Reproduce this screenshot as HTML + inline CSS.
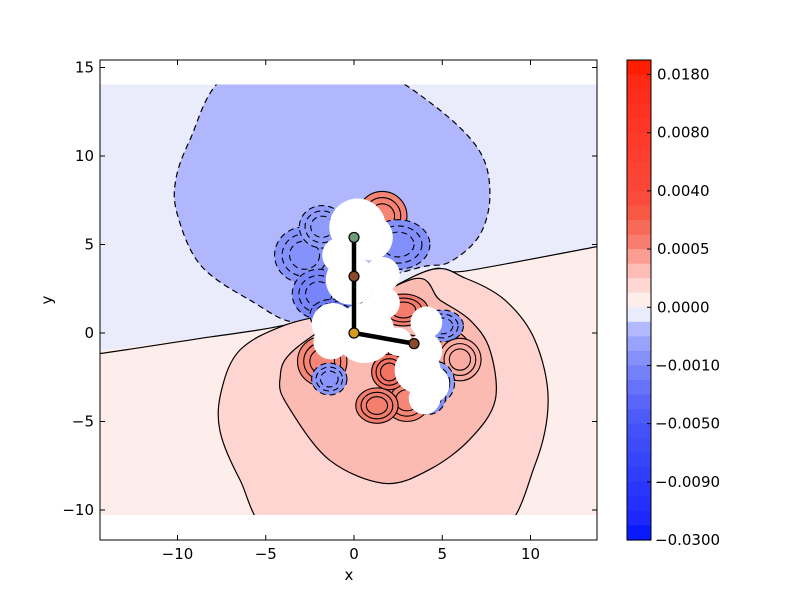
<!DOCTYPE html>
<html><head><meta charset="utf-8"><style>
body{margin:0;background:#fff}
svg text{font-family:"DejaVu Sans","Liberation Sans",sans-serif;font-size:15px;fill:#000}
</style></head><body>
<svg id="chart" width="800" height="600" xmlns="http://www.w3.org/2000/svg">
<defs><clipPath id="clip"><rect x="100" y="84.5" width="497" height="430.5"/></clipPath></defs>
<g id="plot" clip-path="url(#clip)"></g>
<g id="overlay"></g>
</svg>
<script>
const xTicks=[-10,-5,0,5,10];
const yTicks=[15,10,5,0,-5,-10];
const cbLabels=["0.0180","0.0080","0.0040","0.0005","0.0000","\u22120.0010","\u22120.0050","\u22120.0090","\u22120.0300"];
const cbColors=["#ff1e00","#ff2814","#ff2e1c","#ff3222","#ff3626","#fe3a2a","#fd3e2f","#fc4233","#fb4637","#fa4b3c","#f95843","#f86a58","#f97d6e","#fb9d92","#fdbcb5","#fed7d3","#fdeeeb","#eaecfc","#b3b9fd","#9aa3fc","#8590fb","#7380fa","#6572f9","#5966f9","#4d5bf8","#4451f9","#3d4bf9","#3644fa","#303dfb","#2a36fc","#2430fd","#1c28fe","#0a1afe"];
const atomX=[0,0,0,3.4];
const atomY=[5.4,3.2,0,-0.6];
const atomColors=["#6f9a7a","#8b4a2b","#d79a20","#8b4a2b"];
const bondsFrom=[0,2];
const bondsTo=[2,3];
const blueBlob=[[-3.06,0.62],[-5.9,1.86],[-8.7,3.84],[-10,6.67],[-10.1,8.64],[-9.3,10.9],[-7.4,14.4],[-3,15.4],[1.0,15.0],[4.6,12.8],[7.1,10.3],[7.7,7.8],[7.1,5.5],[5.4,4.0],[3.7,3.7],[0,2.5]];
const pinkBg=[[-14.4,-0.98],[-8,-0.2],[-3.9,0.45],[0,1.5],[4.3,3.56],[6.3,3.5],[13.77,4.84],[13.77,-10.3],[-14.4,-10.3]];
const pink2=[[-3.9,0.45],[-6.46,-0.96],[-7.5,-3.2],[-7.6,-5.5],[-6.46,-8.3],[-4.5,-11.5],[1.5,-12.5],[8.0,-11.5],[10.25,-7.46],[11,-3.8],[10.25,-0.4],[8.55,1.86],[6.3,3.1],[4.3,3.56],[0,1.5]];
const pink3=[[-3.06,-0.68],[-4.2,-2.66],[-3.6,-4.35],[-1.36,-7.2],[1.76,-8.5],[4.3,-7.7],[6.57,-6.0],[8,-3.8],[7.7,-0.96],[6.57,0.73],[4.87,1.86],[3.17,3.0]];
const lobeX=[-2.8,-1.8,1.6,2.5,-2.0,-1.3,-1.8,3.0,5.2,5.0,-1.4,3.0,1.3,6.0,2.8,-0.8,2.0,4.6,4.2];
const lobeY=[4.4,6.0,6.6,5.0,2.2,1.0,-1.6,-1.3,-1.0,0.4,-2.6,-3.8,-4.1,-1.5,1.3,1.0,-2.2,-2.8,-3.6];
const lobeRx=[1.7,1.3,1.4,1.8,1.5,1.2,1.4,1.4,1.4,1.2,1.0,1.3,1.2,1.2,1.4,1.0,1.0,1.1,1.0];
const lobeRy=[1.6,1.2,1.4,1.4,1.4,0.9,1.4,1.2,1.2,0.9,0.9,1.2,1.0,1.2,0.9,0.8,1.0,1.2,1.0];
const lobeCol=["#8693fb","#8f9cfb","#f68474","#8390fa","#7784fa","#6d7af9","#f68777","#f87c69","#f7998c","#8592fa","#8a96fb","#f68676","#f47e6e","#faaca3","#f57c6c","#5f6cf8","#f47262","#93a0fb","#7e8bfa"];
const lobeDash=[1,1,0,1,1,1,0,0,0,1,1,0,0,0,0,1,0,1,1];
const whiteX=[0.2,0.9,-0.8,-0.2,1.6,0.6,-1.2,1.7,4.1,4.0,3.6,4.3,4.0,2.5,-1.3,1.2];
const whiteY=[6.0,5.4,4.4,3.0,3.3,0.0,0.5,1.7,0.6,-1.0,-2.1,-2.9,-3.7,-0.5,-0.5,1.2];
const whiteR=[1.6,1.3,1.0,1.4,1.0,1.7,1.2,0.9,0.9,1.0,1.3,1.1,0.9,0.8,1.0,0.9];

const X0=354,SX=17.65,Y0=333,SY=17.7;
const sx=v=>X0+v*SX, sy=v=>Y0-v*SY;
const NS="http://www.w3.org/2000/svg";
const plot=document.getElementById('plot'),ov=document.getElementById('overlay');
function mk(t,a,p){const e=document.createElementNS(NS,t);for(const k in a)e.setAttribute(k,a[k]);p.appendChild(e);return e;}
function smooth(pts,closed){
  const P=pts.map(p=>[sx(p[0]),sy(p[1])]);const n=P.length;let d=`M${P[0][0]},${P[0][1]}`;
  for(let i=0;i<(closed?n:n-1);i++){const p0=P[(i-1+n)%n],p1=P[i],p2=P[(i+1)%n],p3=P[(i+2)%n];
    d+=`C${p1[0]+(p2[0]-p0[0])/6},${p1[1]+(p2[1]-p0[1])/6} ${p2[0]-(p3[0]-p1[0])/6},${p2[1]-(p3[1]-p1[1])/6} ${p2[0]},${p2[1]}`;}
  return d+(closed?'Z':'');}
function poly(pts){return 'M'+pts.map(p=>sx(p[0])+','+sy(p[1])).join('L')+'Z';}

let e;
e=mk('rect',{x:sx(-14.4),y:sy(14.1),width:sx(13.77)-sx(-14.4),height:sy(-10.3)-sy(14.1),fill:'#eaecfc'},plot);

e=mk('path',{d:poly(pinkBg),fill:'#fdeeeb'},plot);

e=mk('path',{d:smooth(pinkBg.slice(0,7),false),fill:'none',stroke:'#000','stroke-width':1.2},plot);

e=mk('path',{d:smooth(blueBlob,true),fill:'#b0b7fc',stroke:'#000','stroke-width':1.2,'stroke-dasharray':'6,4'},plot);

e=mk('path',{d:smooth(pink2,true),fill:'#fed5d1',stroke:'#000','stroke-width':1.2},plot);

e=mk('path',{d:smooth(pink3,true),fill:'#fbbab2',stroke:'#000','stroke-width':1.2},plot);

for(let i=0;i<lobeX.length;i++){
  for(let k=0;k<3;k++){
    const f=1-k*0.25;
    e=mk('ellipse',{cx:sx(lobeX[i]),cy:sy(lobeY[i]),rx:lobeRx[i]*SX*f,ry:lobeRy[i]*SY*f,fill:lobeCol[i],'fill-opacity':k?0.35:1,stroke:'#000','stroke-width':1.1},plot);
    if(lobeDash[i])e.setAttribute('stroke-dasharray','6,4');
    
    
  }
}
for(let i=0;i<whiteX.length;i++){
  e=mk('circle',{cx:sx(whiteX[i]),cy:sy(whiteY[i]),r:whiteR[i]*SX,fill:'#fff'},plot);
  
}
for(let i=0;i<bondsFrom.length;i++){
  e=mk('line',{x1:sx(atomX[bondsFrom[i]]),y1:sy(atomY[bondsFrom[i]]),x2:sx(atomX[bondsTo[i]]),y2:sy(atomY[bondsTo[i]]),stroke:'#000','stroke-width':4.5},plot);
  
}
for(let i=0;i<atomX.length;i++){
  e=mk('circle',{cx:sx(atomX[i]),cy:sy(atomY[i]),r:5,fill:atomColors[i],stroke:'#000','stroke-width':1.2},plot);
  
}
e=mk('rect',{x:100,y:60,width:497,height:480,fill:'none',stroke:'#000','stroke-width':1},ov);

xTicks.forEach(v=>{
  mk('line',{x1:sx(v),x2:sx(v),y1:540,y2:535,stroke:'#000'},ov);
  mk('line',{x1:sx(v),x2:sx(v),y1:60,y2:65,stroke:'#000'},ov);
  e=mk('text',{x:sx(v),y:559,'text-anchor':'middle'},ov);e.textContent=v<0?'\u2212'+(-v):v;
  
});
yTicks.forEach(v=>{
  mk('line',{x1:100,x2:105,y1:sy(v),y2:sy(v),stroke:'#000'},ov);
  mk('line',{x1:597,x2:592,y1:sy(v),y2:sy(v),stroke:'#000'},ov);
  e=mk('text',{x:94,y:sy(v)+5,'text-anchor':'end'},ov);e.textContent=v<0?'\u2212'+(-v):v;
  
});
e=mk('text',{x:349,y:580,'text-anchor':'middle'},ov);e.textContent='x';

e=mk('text',{x:52,y:300,'text-anchor':'middle',transform:'rotate(-90 52 300)'},ov);e.textContent='y';

const cbTop=60,cbH=480,cbX=627,cbW=24,bh=cbH/cbColors.length;
cbColors.forEach((c,i)=>{
  e=mk('rect',{x:cbX,y:cbTop+i*bh,width:cbW,height:bh+0.6,fill:c},ov);
  
});
e=mk('rect',{x:cbX,y:cbTop,width:cbW,height:cbH,fill:'none',stroke:'#000'},ov);

const tickStep=(cbH-bh)/(cbLabels.length-1);
cbLabels.forEach((l,i)=>{
  const y=cbTop+bh+i*tickStep;
  mk('line',{x1:cbX+cbW-4,x2:cbX+cbW,y1:y,y2:y,stroke:'#000'},ov);
  e=mk('text',{x:l[0]=='\u2212'?655:657,y:y+5},ov);e.textContent=l;
  
});
</script>
</body></html>
